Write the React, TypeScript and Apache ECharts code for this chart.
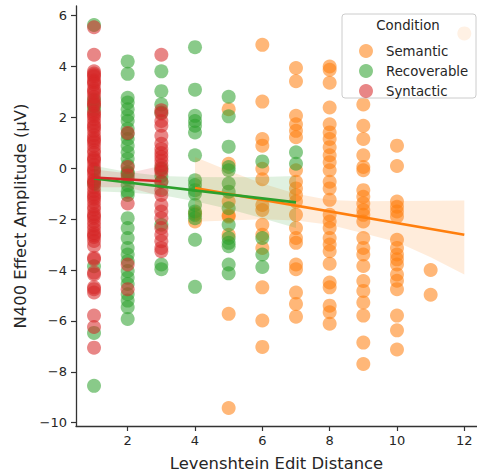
import React, { useEffect, useRef } from "react";
import * as echarts from "echarts";

const conditions = ["Semantic", "Recoverable", "Syntactic"];
const colors = ["rgba(255,127,14,0.7)", "rgba(44,160,44,0.7)", "rgba(214,39,40,0.7)"];
const lineColors = ["#ff7f0e", "#2ca02c", "#d62728"];
const bandColors = ["rgba(255,127,14,0.15)", "rgba(44,160,44,0.15)", "rgba(214,39,40,0.15)"];

const xTicks = [2, 4, 6, 8, 10, 12];
const yTicks = [-10, -8, -6, -4, -2, 0, 2, 4, 6];

// N400 amplitudes per edit distance
const semanticByDistance: Record<number, number[]> = {
  4: [-1.77, -2.09],
  5: [2.32, 0.18, -1.31, -1.85, -1.9, -2.61, -5.72, -9.42],
  6: [4.85, 2.62, 1.15, 0.89, -0.02, -0.43, -1.44, -1.64, -2.22, -2.61, -3.13, -4.68, -5.98, -7.02],
  7: [3.94, 3.42, 2.06, 1.73, 1.47, 1.22, -0.08, -0.53, -0.79, -1.05, -1.31, -1.83, -2.35, -2.74, -2.93, -3.78, -3.97, -4.88, -5.33, -5.83],
  8: [4.0, 3.87, 3.36, 2.39, 1.73, 1.41, 1.15, 0.83, 0.51, 0.24, -0.08, -0.53, -0.79, -1.24, -1.83, -2.09, -2.35, -2.74, -3.0, -3.26, -3.75, -4.49, -4.68, -5.4, -5.66, -6.11],
  9: [2.51, 1.67, 1.15, 0.51, 0.05, -0.08, -0.86, -1.12, -1.38, -1.64, -1.83, -2.09, -2.74, -3.13, -3.39, -3.84, -4.43, -4.82, -5.27, -5.79, -6.85, -7.69],
  10: [0.89, 0.09, -1.31, -1.51, -1.7, -1.9, -2.81, -3.13, -3.39, -3.58, -3.78, -4.17, -4.42, -4.75, -5.79, -6.37, -7.12],
  11: [-4.0, -4.97],
  12: [5.3],
};
const recoverableByDistance: Record<number, number[]> = {
  1: [5.63, 2.7, 2.45, 2.3, -0.6, -3.85, -6.47, -8.55],
  2: [4.2, 3.71, 2.77, 2.58, 2.32, 2.06, 1.86, 1.55, 1.35, 1.15, 0.89, 0.63, 0.37, 0.11, -0.15, -0.2, -0.4, -0.66, -0.92, -1.05, -1.96, -2.35, -2.74, -3.13, -3.39, -3.65, -4.04, -4.3, -4.55, -4.95, -5.2, -5.46, -5.92],
  3: [3.81, 3.03, 2.51, 2.19, 0.0, -0.3, -0.53, -2.22, -3.78, -3.97],
  4: [4.76, 3.09, 2.06, 1.86, 1.67, 1.41, 0.51, -0.47, -0.66, -0.86, -0.99, -1.44, -1.7, -1.83, -1.96, -2.81, -4.66],
  5: [2.81, 2.04, 0.85, 0.05, -0.08, -0.6, -0.92, -1.57, -2.22, -2.74, -2.93, -3.06, -3.78, -4.13],
  6: [0.27, -2.74, -3.39, -3.88],
  7: [0.63, 0.18],
};
const syntacticByDistance: Record<number, number[]> = {
  1: [5.54, 4.46, 3.81, 3.72, 3.66, 3.6, 3.45, 3.38, 3.3, 3.12, 3.04, 2.95, 2.8, 2.62, 2.55, 2.48, 2.2, 2.12, 2.05, 1.93, 1.78, 1.66, 1.6, 1.47, 1.3, 1.18, 1.1, 1.02, 0.88, 0.71, 0.6, 0.42, 0.35, 0.3, 0.14, -0.02, -0.08, -0.17, -0.3, -0.46, -0.52, -0.6, -0.75, -0.9, -1.03, -1.12, -1.2, -1.34, -1.5, -1.62, -1.8, -1.88, -1.95, -2.1, -2.25, -2.4, -2.55, -2.63, -2.7, -2.86, -3.05, -3.52, -3.58, -4.1, -4.17, -4.68, -4.75, -4.88, -5.79, -6.24, -7.05],
  2: [1.39, 0.05, -0.28, -1.38, -3.78, -4.75],
  3: [4.46, 2.28, 2.15, 1.86, 1.67, 1.28, 0.96, 0.76, 0.6, 0.45, 0.3, 0.12, -0.05, -0.14, -0.53, -0.86, -1.05, -1.44, -1.7, -1.96, -2.35, -2.61, -2.87, -3.13, -3.26],
};

// regression fits (endpoints) and confidence bands
const semanticFitX = [4, 12];
const semanticFitY = [-0.78, -2.61];
const recoverableFitX = [1, 7];
const recoverableFitY = [-0.4, -1.34];
const syntacticFitX = [1, 3];
const syntacticFitY = [-0.36, -0.51];

const semanticBandX = [4, 5, 6, 7, 8, 9, 10, 11, 12];
const semanticBandHi = [0.44, -0.1, -0.6, -1.0, -1.25, -1.3, -1.29, -1.28, -1.27];
const semanticBandLo = [-2.1, -2.05, -2.0, -2.05, -2.22, -2.55, -2.9, -3.5, -4.17];
const recoverableBandX = [1, 2, 3, 4, 5, 6, 7];
const recoverableBandHi = [0.1, -0.15, -0.3, -0.34, -0.35, -0.34, -0.3];
const recoverableBandLo = [-0.9, -0.95, -1.05, -1.3, -1.6, -1.96, -2.35];
const syntacticBandX = [1, 2, 3];
const syntacticBandHi = [-0.05, -0.2, 0.1];
const syntacticBandLo = [-0.75, -0.75, -1.1];

const X_MIN = 0.465;
const X_MAX = 12.377;
const Y_MIN = -10.128;
const Y_MAX = 6.377;

const toPoints = (m: Record<number, number[]>) =>
  Object.entries(m).flatMap(([d, ys]) => ys.map((y) => [Number(d), y]));

const minus = (v: number) => String(v).replace("-", "\u2212");
const FONT = "DejaVu Sans";
const TXT = "#262626";

function bandSeries(xs: number[], lo: number[], hi: number[], fill: string) {
  return {
    type: "custom",
    z: 3,
    silent: true,
    data: xs.map((x, i) => [x, lo[i], hi[i]]),
    encode: { x: 0, y: [1, 2] },
    renderItem: (params: any, api: any) => {
      if (params.dataIndex !== 0) return null;
      const top = xs.map((x, i) => api.coord([x, hi[i]]));
      const bot = xs.map((x, i) => api.coord([x, lo[i]])).reverse();
      return { type: "polygon", shape: { points: top.concat(bot) }, style: { fill } };
    },
  };
}

function lineSeries(xs: number[], ys: number[], color: string) {
  return {
    type: "line",
    z: 4,
    silent: true,
    symbol: "none",
    data: xs.map((x, i) => [x, ys[i]]),
    lineStyle: { color, width: 2.6 },
  };
}

export default function App() {
  const ref = useRef<HTMLDivElement>(null);
  useEffect(() => {
    if (!ref.current) return;
    const chart = echarts.init(ref.current, undefined, { renderer: "svg" });
    const scatterSets = [semanticByDistance, recoverableByDistance, syntacticByDistance];
    chart.setOption({
      animation: false,
      grid: { left: 76, right: 0, top: 6, bottom: 46, containLabel: false },
      xAxis: {
        type: "value",
        min: X_MIN,
        max: X_MAX,
        name: "Levenshtein Edit Distance",
        nameLocation: "middle",
        nameGap: 29,
        nameTextStyle: { fontFamily: FONT, fontSize: 16.4, color: TXT },
        axisLine: { onZero: false, lineStyle: { color: "#333", width: 1.3 } },
        axisTick: { show: true, length: 5, customValues: xTicks, lineStyle: { color: "#333", width: 1.2 } },
        axisLabel: { customValues: xTicks, margin: 8, fontFamily: FONT, fontSize: 13, color: TXT, formatter: minus },
        splitLine: { show: false },
      },
      yAxis: {
        type: "value",
        min: Y_MIN,
        max: Y_MAX,
        name: "N400 Effect Amplitude (\u00b5V)",
        nameLocation: "middle",
        nameGap: 41,
        nameTextStyle: { fontFamily: FONT, fontSize: 16.4, color: TXT },
        axisLine: { onZero: false, lineStyle: { color: "#333", width: 1.3 } },
        axisTick: { show: true, length: 5, customValues: yTicks, lineStyle: { color: "#333", width: 1.2 } },
        axisLabel: { customValues: yTicks, margin: 9, fontFamily: FONT, fontSize: 13, color: TXT, formatter: minus },
        splitLine: { show: false },
      },
      legend: {
        data: conditions,
        orient: "vertical",
        left: 354,
        top: 39,
        icon: "circle",
        itemWidth: 14,
        itemHeight: 14,
        itemGap: 6,
        z: 6,
        selectedMode: false,
        textStyle: { fontFamily: FONT, fontSize: 13.3, color: TXT, padding: [0, 0, 0, 8] },
      },
      graphic: [
        {
          type: "rect",
          z: 5,
          shape: { x: 342, y: 14, width: 134, height: 84, r: 3 },
          style: { fill: "rgba(255,255,255,0.8)", stroke: "#cccccc", lineWidth: 1 },
        },
        {
          type: "text",
          z: 6,
          x: 408,
          y: 25,
          style: { text: "Condition", font: `13.3px '${FONT}'`, fill: TXT, textAlign: "center", textVerticalAlign: "middle" },
        },
      ],
      series: [
        ...conditions.map((name, i) => ({
          name,
          type: "scatter",
          z: 2,
          symbolSize: 14,
          data: toPoints(scatterSets[i]),
          itemStyle: { color: colors[i] },
        })),
        bandSeries(semanticBandX, semanticBandLo, semanticBandHi, bandColors[0]),
        lineSeries(semanticFitX, semanticFitY, lineColors[0]),
        bandSeries(recoverableBandX, recoverableBandLo, recoverableBandHi, bandColors[1]),
        lineSeries(recoverableFitX, recoverableFitY, lineColors[1]),
        bandSeries(syntacticBandX, syntacticBandLo, syntacticBandHi, bandColors[2]),
        lineSeries(syntacticFitX, syntacticFitY, lineColors[2]),
      ],
    });
    return () => chart.dispose();
  }, []);
  return <div ref={ref} style={{ width: 477, height: 476, position: "absolute", left: 0, top: 0 }} />;
}
